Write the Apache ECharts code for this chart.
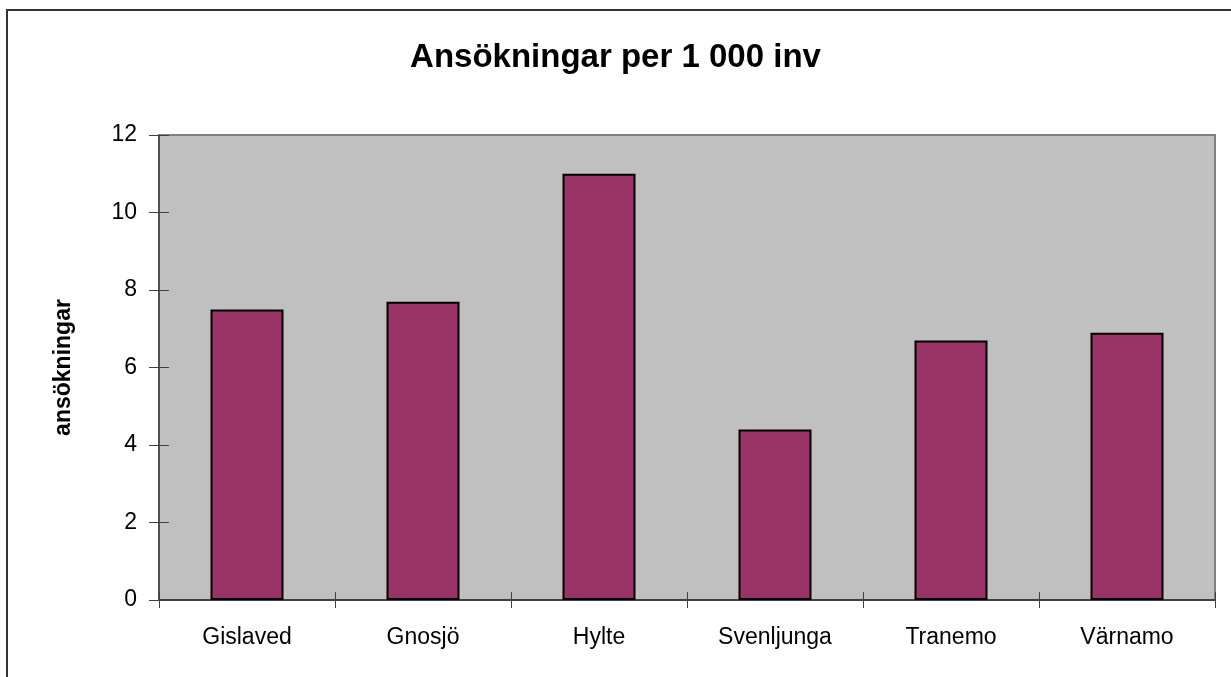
<!DOCTYPE html>
<html lang="sv">
<head>
<meta charset="utf-8">
<title>Ansökningar per 1 000 inv</title>
<script src="https://cdn.jsdelivr.net/npm/echarts@6/dist/echarts.min.js"></script>
<style>
  html, body { margin: 0; padding: 0; background: #fff; overflow: hidden; }
  #container { width: 1231px; height: 677px; }
</style>
</head>
<body>
<div id="container"></div>
<script>
// kommuner och ansökningar per 1 000 invånare
var kommuner = ['Gislaved', 'Gnosjö', 'Hylte', 'Svenljunga', 'Tranemo', 'Värnamo'];
var ansokningar = [7.5, 7.7, 11.0, 4.4, 6.7, 6.9];
var yTicks = [0, 2, 4, 6, 8, 10, 12];

var fontFam = '"Liberation Sans", Arial, sans-serif';
var myChart = echarts.init(document.getElementById('container'));

var option = {
  backgroundColor: '#ffffff',
  animation: false,
  title: {
    text: 'Ansökningar per 1 000 inv',
    left: 'center',
    top: 36,
    textStyle: { fontFamily: fontFam, fontSize: 33, fontWeight: 'bold', color: '#000' }
  },
  graphic: [{
    type: 'rect',
    shape: { x: 7, y: 10, width: 1300, height: 700 },
    style: { fill: 'none', stroke: '#333', lineWidth: 2 },
    silent: true
  }],
  grid: {
    left: 159, right: 16, top: 135, bottom: 77,
    show: true,
    backgroundColor: '#c0c0c0',
    borderColor: '#808080',
    borderWidth: 2
  },
  xAxis: [
    {
      type: 'category',
      data: kommuner,
      axisLine: { lineStyle: { color: '#404040', width: 2 } },
      axisTick: { show: true, length: 8, lineStyle: { color: '#404040' } },
      axisLabel: { color: '#000', fontFamily: fontFam, fontSize: 23, margin: 26 }
    },
    {
      type: 'category',
      data: kommuner,
      position: 'bottom',
      axisLine: { show: false },
      axisTick: { show: true, inside: true, length: 8, lineStyle: { color: '#404040' } },
      axisLabel: { show: false }
    }
  ],
  yAxis: [
    {
      type: 'value',
      min: yTicks[0],
      max: yTicks[yTicks.length - 1],
      interval: 2,
      name: 'ansökningar',
      nameLocation: 'middle',
      nameGap: 84,
      nameTextStyle: { fontFamily: fontFam, fontSize: 23, fontWeight: 'bold', color: '#000' },
      axisLine: { show: true, lineStyle: { color: '#404040', width: 1.5 } },
      axisTick: { show: true, length: 10, lineStyle: { color: '#404040' } },
      axisLabel: { color: '#000', fontFamily: fontFam, fontSize: 23, margin: 22 },
      splitLine: { show: false }
    },
    {
      type: 'value',
      min: 0, max: 12, interval: 2,
      position: 'left',
      axisLine: { show: false },
      axisTick: { show: true, inside: true, length: 10, lineStyle: { color: '#404040' } },
      axisLabel: { show: false },
      splitLine: { show: false }
    }
  ],
  series: [{
    name: 'Ansökningar',
    type: 'bar',
    data: ansokningar,
    barWidth: 73,
    itemStyle: { color: '#993366', borderColor: '#000', borderWidth: 2 }
  }]
};
myChart.setOption(option);
</script>
</body>
</html>
